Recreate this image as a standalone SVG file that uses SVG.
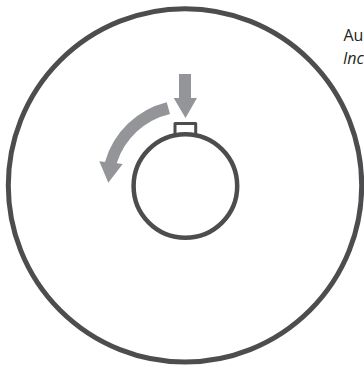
<svg xmlns="http://www.w3.org/2000/svg" width="364" height="365" viewBox="0 0 364 365">
<style>
.ring{fill:none;stroke:#4d4d4f;stroke-linejoin:round}
.arrow{fill:#939598;stroke:none}
.label{font-family:"Open Sans","Liberation Sans",sans-serif;font-size:16px;fill:#231f20}
</style>
<rect width="364" height="365" fill="#fff"/>
<g id="outer-circle"><circle class="ring" cx="185" cy="185.400" r="176.700" stroke-width="5"/></g>
<g id="inner-circle"><circle class="ring" cx="185.400" cy="186" r="51.800" stroke-width="4.500"/></g>
<g id="tab"><path class="ring" stroke-width="3" d="M175 134.500V123.500H195.700V134.500"/></g>
<g id="connectors">
<path class="arrow" d="M179 74H191V98H197L185.500 118L173.700 98H179Z"/>
<path class="arrow" d="M166.700 102.300L170 114A73.500 73.500 0 0 0 116.700 163.300L122.700 164L108.300 182.700L99.300 161.300L105 162A85.500 85.500 0 0 1 166.700 102.300Z"/>
</g>
<g id="labels">
<text class="label" x="343.500" y="40.500">Au</text>
<text class="label" x="343" y="64" font-style="italic">Inc</text>
</g>
</svg>
